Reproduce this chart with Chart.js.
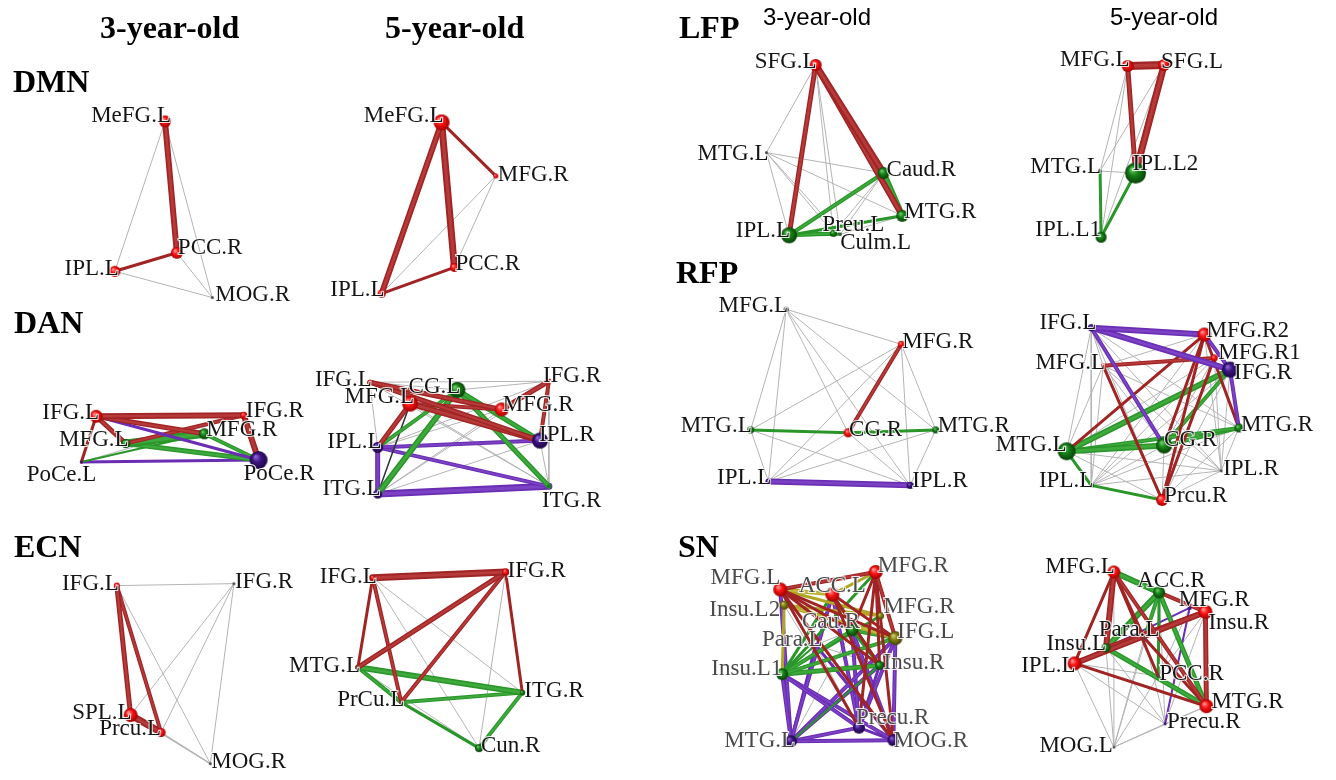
<!DOCTYPE html>
<html>
<head>
<meta charset="utf-8">
<script src="https://cdn.jsdelivr.net/npm/chart.js@4.4.0/dist/chart.umd.min.js"></script>
<style>
  html, body { margin: 0; padding: 0; background: #fff; }
  #wrap { width: 1336px; height: 780px; }
</style>
</head>
<body>
<div id="wrap"><canvas id="myChart" width="1336" height="780"></canvas></div>
<script>
// ---- DMN 3-year-old
const dmn3Names = ["MeFG.L", "PCC.R", "IPL.L", "MOG.R"];
const dmn3X = [157, 169, 106, 205];
const dmn3Y = [114, 249, 268, 295];
const dmn3Module = ["r", "r", "r", "k"];
const dmn3Edges = [[0,1,"r",6],[2,1,"r",3],[0,2,"n",1],[0,3,"n",1],[1,3,"n",1],[2,3,"n",1]];

// ---- DMN 5-year-old
const dmn5Names = ["MeFG.L", "MFG.R", "PCC.R", "IPL.L"];
const dmn5X = [438, 493, 451, 377];
const dmn5Y = [115, 170, 264, 291];
const dmn5Module = ["r", "r", "r", "r"];
const dmn5Edges = [[0,3,"r",6],[0,2,"r",7],[0,1,"r",3],[3,2,"r",3],[3,1,"n",1],[2,1,"n",1]];

// ---- DAN 3-year-old
const dan3Names = ["IFG.L", "IFG.R", "MFG.L", "MFG.R", "PoCe.L", "PoCe.R"];
const dan3X = [87, 237, 117, 197, 72, 252];
const dan3Y = [417, 416, 445, 435, 464, 462];
const dan3Module = ["r", "r", "g", "g", "p", "p"];
const dan3Edges = [[0,1,"r",6],[0,3,"r",5],[0,2,"r",5],[0,4,"r",3],[0,5,"p",3],[1,5,"r",6],[2,1,"r",4],
  [2,3,"g",8],[2,5,"g",5],[3,5,"g",4],[4,3,"g",2],[4,5,"p",3],[4,1,"n",1]];

// ---- DAN 5-year-old
const dan5Names = ["IFG.L", "CG.L", "MFG.L", "MFG.R", "IFG.R", "IPL.L", "IPL.R", "ITG.L", "ITG.R"];
const dan5X = [365, 454, 406, 499, 547, 373, 538, 373, 547];
const dan5Y = [382, 390, 404, 410, 381, 449, 442, 497, 489];
const dan5Module = ["r", "g", "r", "r", "r", "p", "p", "p", "g"];
const dan5Edges = [[0,3,"r",5],[0,6,"r",5],[2,6,"r",6],[2,3,"r",4],[2,5,"r",5],[4,3,"r",5],[4,6,"r",4],
  [1,7,"g",6],[1,5,"g",4],[1,6,"g",5],[1,8,"g",5],[2,7,"k",1.5],
  [5,6,"p",4],[5,8,"p",4],[5,7,"p",5],[7,8,"p",7],
  [0,4,"n",1],[0,1,"n",1],[0,5,"n",1],[1,4,"n",1],[4,8,"n",1],[4,5,"n",1],[5,3,"n",1],[6,7,"n",1],
  [7,3,"n",1],[2,8,"n",1],[0,8,"n",1],[6,8,"n",1],[4,7,"n",1]];

// ---- ECN 3-year-old
const ecn3Names = ["IFG.L", "IFG.R", "SPL.L", "Prcu.L", "MOG.R"];
const ecn3X = [108, 227, 122, 153, 203];
const ecn3Y = [591, 589, 724, 742, 774];
const ecn3Module = ["r", "k", "r", "r", "k"];
const ecn3Edges = [[0,2,"r",5],[0,3,"r",4],[2,3,"r",7],[0,1,"n",1],[0,4,"n",1],[1,2,"n",1],[1,3,"n",1],
  [1,4,"n",1],[3,4,"n",1.5],[2,4,"n",1]];

// ---- ECN 5-year-old
const ecn5Names = ["IFG.L", "IFG.R", "MTG.L", "ITG.R", "PrCu.L", "Cun.R"];
const ecn5X = [368, 503, 353, 520, 397, 476];
const ecn5Y = [583, 577, 675, 701, 711, 758];
const ecn5Module = ["r", "r", "k", "g", "k", "g"];
const ecn5Edges = [[0,1,"r",7],[1,2,"r",5],[1,4,"r",4],[1,3,"r",3],[0,2,"r",3],[0,4,"r",4],
  [2,3,"g",6],[2,4,"g",4],[4,3,"g",4],[4,5,"g",3],[3,5,"g",4],
  [0,3,"n",1],[0,5,"n",1],[1,5,"n",1],[2,5,"n",1]];

// ---- LFP 3-year-old
const lfp3Names = ["SFG.L", "MTG.L", "Caud.R", "MTG.R", "IPL.L", "Preu.L", "Culm.L"];
const lfp3X = [818, 768, 887, 906, 791, 836, 843];
const lfp3Y = [56, 146, 167, 211, 231, 229, 230];
const lfp3Module = ["r", "k", "g", "g", "g", "g", "k"];
const lfp3Edges = [[0,2,"r",7],[0,3,"r",6],[0,4,"r",5],[4,2,"g",4],[2,3,"g",6],[4,3,"g",3],[4,5,"g",4],[4,6,"g",3],
  [0,1,"n",1],[0,5,"n",1],[0,6,"n",1],[1,4,"n",1],[1,2,"n",1],[1,3,"n",1],[1,5,"n",1],[1,6,"n",1],
  [2,5,"n",1],[2,6,"n",1],[3,6,"n",1]];

// ---- LFP 5-year-old
const lfp5Names = ["MFG.L", "SFG.L", "MTG.L", "IPL.L2", "IPL.L1"];
const lfp5X = [1135, 1172, 1107, 1143, 1108];
const lfp5Y = [57, 56, 165, 167, 233];
const lfp5Module = ["r", "r", "k", "g", "g"];
const lfp5Edges = [[0,1,"r",8],[0,3,"r",5],[1,3,"r",7],[2,4,"g",3],[4,3,"g",3],
  [0,2,"n",1],[0,4,"n",1],[1,2,"n",1],[1,4,"n",1],[2,3,"n",1]];

// ---- RFP 3-year-old
const rfp3Names = ["MFG.L", "MFG.R", "MTG.L", "CG.R", "MTG.R", "IPL.L", "IPL.R"];
const rfp3X = [788, 905, 752, 851, 940, 770, 914];
const rfp3Y = [307, 343, 431, 434, 431, 484, 488];
const rfp3Module = ["k", "r", "g", "r", "g", "p", "p"];
const rfp3Edges = [[1,3,"r",4],[2,3,"g",3],[3,4,"g",3],[5,6,"p",6],
  [0,1,"n",1],[0,2,"n",1],[0,3,"n",1],[0,4,"n",1],[0,5,"n",1],[0,6,"n",1],[1,2,"n",1],[1,4,"n",1],
  [1,5,"n",1],[1,6,"n",1],[2,5,"n",1],[2,6,"n",1],[3,5,"n",1],[3,6,"n",1],[4,5,"n",1],[4,6,"n",1]];

// ---- RFP 5-year-old
const rfp5Names = ["IFG.L", "MFG.R2", "MFG.R1", "IFG.R", "MFG.L", "MTG.R", "CG.R", "MTG.L", "IPL.R", "IPL.L", "Prcu.R"];
const rfp5X = [1098, 1213, 1223, 1239, 1110, 1248, 1172, 1073, 1230, 1098, 1170];
const rfp5Y = [326, 333, 357, 369, 365, 429, 447, 453, 473, 488, 503];
const rfp5Module = ["p", "r", "r", "p", "r", "g", "g", "g", "k", "g", "r"];
const rfp5Edges = [[0,1,"p",6],[0,3,"p",6],[0,6,"p",4],[1,3,"p",4],[3,5,"p",4],
  [4,2,"r",4],[4,10,"r",3],[7,1,"r",3],[1,6,"r",3],[1,10,"r",3],[2,10,"r",3],[1,5,"r",3],
  [7,3,"g",6],[7,6,"g",6],[7,5,"g",4],[6,3,"g",4],[6,5,"g",4],[7,9,"g",3],[9,10,"g",3],
  [0,4,"n",1],[0,7,"n",1],[0,9,"n",1],[0,5,"n",1],[0,8,"n",1],[0,10,"n",1],[4,7,"n",1],[4,6,"n",1],
  [4,8,"n",1],[4,5,"n",1],[4,9,"n",1],[1,9,"n",1],[1,8,"n",1],[2,7,"n",1],[2,9,"n",1],[2,8,"n",1],
  [3,9,"n",1],[3,8,"n",1],[3,10,"n",1],[5,9,"n",1],[5,8,"n",1],[5,10,"n",1],[6,9,"n",1],[6,8,"n",1],
  [6,10,"n",1],[7,8,"n",1],[7,10,"n",1],[9,8,"n",1],[8,10,"n",1],[1,4,"n",1],[2,6,"n",1]];

// ---- SN 3-year-old
const sn3Names = ["MFG.L", "ACC.L", "MFG.R", "Insu.L2", "MFG.R", "Cau.R", "IFG.L", "Para.L", "Insu.L1", "Insu.R", "Precu.R", "MTG.L", "MOG.R"];
const sn3X = [782, 835, 879, 786, 884, 855, 899, 818, 784, 883, 862, 793, 897];
const sn3Y = [595, 600, 577, 611, 622, 637, 645, 652, 682, 673, 737, 751, 750];
const sn3Module = ["r", "r", "r", "o", "o", "g", "o", "k", "g", "g", "p", "p", "p"];
const sn3Edges = [[0,2,"r",4],[0,9,"r",3],[0,10,"r",3],[0,12,"r",3],[0,5,"r",3],[1,12,"r",3],[1,6,"r",3],
  [1,9,"r",3],[2,6,"r",4],[2,9,"r",3],[2,10,"r",3],[2,5,"r",3],[2,12,"r",3],[0,6,"r",3],
  [0,1,"o",4],[0,4,"o",3],[3,6,"o",4],[3,4,"o",3],[3,8,"o",3],[1,2,"o",3],
  [8,2,"g",3],[8,6,"g",4],[8,9,"g",5],[8,5,"g",4],[8,4,"g",3],[5,6,"g",4],[5,9,"g",3],[1,9,"g",3],
  [8,7,"g",2],[11,9,"g",2],[1,8,"g",3],
  [11,12,"p",4],[11,10,"p",4],[8,11,"p",4],[8,10,"p",4],[8,12,"p",4],[0,11,"p",4],[6,12,"p",4],
  [6,11,"p",4],[6,10,"p",4],[9,11,"p",4],[9,10,"p",3],[5,10,"p",4],[5,12,"p",4],[1,10,"p",4],
  [1,11,"p",4],[7,11,"p",3],[7,12,"p",3],[10,12,"p",3],
  [7,10,"n",1],[3,11,"n",1],[7,9,"n",1],[5,11,"n",1],[3,10,"n",1],[7,5,"n",1],[1,7,"n",1]];

// ---- SN 5-year-old
const sn5Names = ["MFG.L", "ACC.R", "MFG.R", "Insu.R", "Para.L", "Insu.L", "IPL.L", "PCC.R", "MTG.R", "Precu.R", "MOG.L"];
const sn5X = [1121, 1167, 1198, 1214, 1152, 1113, 1081, 1166, 1215, 1173, 1121];
const sn5Y = [577, 598, 614, 618, 645, 655, 671, 684, 715, 733, 757];
const sn5Module = ["r", "g", "p", "r", "k", "g", "r", "k", "r", "p", "k"];
const sn5Edges = [[0,6,"r",3],[0,5,"r",6],[0,7,"r",3],[0,8,"r",4],[0,4,"r",3],[1,3,"r",4],[3,6,"r",6],
  [3,8,"r",5],[3,5,"r",5],[6,8,"r",3],[4,8,"r",3],
  [0,1,"g",6],[1,5,"g",6],[1,7,"g",3],[1,8,"g",5],[5,8,"g",5],[1,4,"g",4],
  [6,2,"p",2],[2,9,"p",2],
  [10,6,"n",1],[10,5,"n",1],[10,4,"n",1],[10,1,"n",1],[10,7,"n",1],[10,9,"n",1],[10,8,"n",1],[10,0,"n",1],
  [6,9,"n",1],[6,7,"n",1],[3,9,"n",1],[3,7,"n",1],[8,9,"n",1],[5,9,"n",1],[4,9,"n",1],[1,9,"n",1],
  [3,4,"n",1],[2,7,"n",1]];

// ---- styles: node radius and label placement [align, dx, dy]
const dmn3Size = [6, 6, 5.5, 1.5];
const dmn3Lab = [["right",6,1],["left",1,1],["right",4,4],["left",3,3]];
const dmn5Size = [8, 2.5, 4.5, 4];
const dmn5Lab = [["right",2,0],["left",2,5],["left",1,3],["right",3,2]];
const dan3Size = [6.5, 3.5, 4.5, 5.5, 1.5, 9];
const dan3Lab = [["right",3,3],["left",2,2],["right",3,2],["left",2,2],["right",15,19],["left",-15,20]];
const dan5Size = [2, 8, 8, 7, 2, 5.5, 8, 4.5, 2];
const dan5Lab = [["right",2,4],["right",3,3],["right",4,-1],["left",1,2],["left",-6,1],["right",4,1],["left",-1,0],["right",3,1],["left",-7,21]];
const ecn3Size = [3, 1.5, 7, 4.5, 1.5];
const ecn3Lab = [["right",2,4],["left",1,4],["right",1,4],["right",0,2],["left",1,4]];
const ecn5Size = [2.5, 3.5, 1.5, 2.5, 1.5, 4];
const ecn5Lab = [["right",4,5],["left",2,5],["right",2,5],["left",2,4],["right",3,4],["left",2,4]];
const lfp3Size = [6, 1.5, 6, 6, 8, 3.5, 1.5];
const lfp3Lab = [["right",1,3],["right",2,7],["left",3,3],["left",2,2],["right",1,2],["left",-11,-2],["left",0,15]];
const lfp5Size = [6, 6, 1.5, 10.5, 5.5];
const lfp5Lab = [["right",2,0],["left",-3,3],["right",1,2],["left",-3,-3],["right",0,-1]];
const rfp3Size = [2.5, 3.5, 3.5, 4.5, 3.5, 2.5, 3.5];
const rfp3Lab = [["right",2,3],["left",1,4],["right",1,2],["left",1,3],["left",2,2],["right",3,3],["left",2,2]];
const rfp5Size = [3.5, 7, 3.5, 8, 2, 4.5, 8, 9, 1.5, 2.5, 6];
const rfp5Lab = [["right",5,1],["left",2,2],["left",4,1],["left",4,9],["right",2,3],["left",2,3],["left",0,1],["right",0,0],["left",2,4],["right",2,2],["left",2,2]];
const sn3Size = [7, 7, 7, 4.5, 3.5, 6, 7, 1.5, 6, 4.5, 6, 6, 6];
const sn3Lab = [["right",0,-5],["center",0,-2],["left",2,0],["right",-4,11],["left",3,-3],["right",8,-2],["left",2,0],["right",7,1],["right",0,1],["left",4,4],["left",-3,-4],["right",4,6],["left",0,7]];
const sn5Size = [6.5, 6, 2, 7, 1.5, 4.5, 7, 1.5, 7, 1.5, 1.5];
const sn5Lab = [["right",1,1],["left",-22,-5],["left",-11,-2],["left",3,17],["right",15,-2],["right",0,2],["right",1,9],["left",1,4],["left",5,2],["left",2,4],["right",-1,5]];

const colors = {
  r: { edge: "#a02424", shine: "#b63a3a", node: "#ff1414", light: "#ffa0a0", dark: "#a00000" },
  g: { edge: "#2a962a", shine: "#3eaa3e", node: "#178017", light: "#70d070", dark: "#084008" },
  p: { edge: "#6a2db4", shine: "#7b42c4", node: "#3d1480", light: "#8f68d8", dark: "#1c0744" },
  o: { edge: "#b0a726", shine: "#c2ba3c", node: "#858014", light: "#dcd478", dark: "#444008" },
  k: { edge: "#333333", shine: "#444444", node: "#4a4a4a", light: "#aaaaaa", dark: "#1a1a1a" },
  n: { edge: "#b4b4b4" }
};

const panels = [
  { names: dmn3Names, x: dmn3X, y: dmn3Y, mod: dmn3Module, edges: dmn3Edges, size: dmn3Size, lab: dmn3Lab },
  { names: dmn5Names, x: dmn5X, y: dmn5Y, mod: dmn5Module, edges: dmn5Edges, size: dmn5Size, lab: dmn5Lab },
  { names: dan3Names, x: dan3X, y: dan3Y, mod: dan3Module, edges: dan3Edges, size: dan3Size, lab: dan3Lab },
  { names: dan5Names, x: dan5X, y: dan5Y, mod: dan5Module, edges: dan5Edges, size: dan5Size, lab: dan5Lab },
  { names: ecn3Names, x: ecn3X, y: ecn3Y, mod: ecn3Module, edges: ecn3Edges, size: ecn3Size, lab: ecn3Lab },
  { names: ecn5Names, x: ecn5X, y: ecn5Y, mod: ecn5Module, edges: ecn5Edges, size: ecn5Size, lab: ecn5Lab },
  { names: lfp3Names, x: lfp3X, y: lfp3Y, mod: lfp3Module, edges: lfp3Edges, size: lfp3Size, lab: lfp3Lab },
  { names: lfp5Names, x: lfp5X, y: lfp5Y, mod: lfp5Module, edges: lfp5Edges, size: lfp5Size, lab: lfp5Lab },
  { names: rfp3Names, x: rfp3X, y: rfp3Y, mod: rfp3Module, edges: rfp3Edges, size: rfp3Size, lab: rfp3Lab },
  { names: rfp5Names, x: rfp5X, y: rfp5Y, mod: rfp5Module, edges: rfp5Edges, size: rfp5Size, lab: rfp5Lab },
  { names: sn3Names, x: sn3X, y: sn3Y, mod: sn3Module, edges: sn3Edges, size: sn3Size, lab: sn3Lab, grey: true },
  { names: sn5Names, x: sn5X, y: sn5Y, mod: sn5Module, edges: sn5Edges, size: sn5Size, lab: sn5Lab }
];

// little shaded spheres, used as point styles
const sphereCache = {};
function sphere(key, r) {
  const id = key + r;
  if (sphereCache[id]) return sphereCache[id];
  const col = colors[key];
  const s = Math.ceil(r * 2 + 2);
  const cv = document.createElement("canvas");
  cv.width = s;
  cv.height = s;
  const c = cv.getContext("2d");
  const m = s / 2;
  if (r < 2.5) {
    c.fillStyle = col.node;
  } else {
    const g = c.createRadialGradient(m - r * 0.35, m - r * 0.4, r * 0.05, m, m, r);
    g.addColorStop(0, col.light);
    g.addColorStop(0.45, col.node);
    g.addColorStop(1, col.dark);
    c.fillStyle = g;
  }
  c.beginPath();
  c.arc(m, m, r, 0, Math.PI * 2);
  c.fill();
  sphereCache[id] = cv;
  return cv;
}

function edgeSet(p, e, color, width) {
  return {
    data: [{ x: p.x[e[0]], y: p.y[e[0]] }, { x: p.x[e[1]], y: p.y[e[1]] }],
    showLine: true,
    borderColor: color,
    borderWidth: width,
    borderCapStyle: "round",
    pointRadius: 0,
    pointHoverRadius: 0,
    order: e[2] === "n" ? 3 : 2,
  };
}

const datasets = [];
panels.forEach((p) => {
  p.edges.forEach((e) => {
    // soft tube highlight first: lower index is painted on top within the same order
    if (e[2] !== "n" && e[3] >= 4) datasets.push(edgeSet(p, e, colors[e[2]].shine, e[3] * 0.45));
    datasets.push(edgeSet(p, e, colors[e[2]].edge, e[3]));
  });
  datasets.push({
    data: p.x.map((v, i) => ({ x: v, y: p.y[i] })),
    pointStyle: p.mod.map((m, i) => sphere(m, p.size[i])),
    pointRadius: p.size,
    pointBorderWidth: 0,
    order: 1,
  });
});

const titles = [
  ["3-year-old", 100, 38, "bold 32px 'Liberation Serif', serif"],
  ["5-year-old", 385, 38, "bold 32px 'Liberation Serif', serif"],
  ["DMN", 13, 92, "bold 32px 'Liberation Serif', serif"],
  ["DAN", 14, 333, "bold 32px 'Liberation Serif', serif"],
  ["ECN", 14, 557, "bold 32px 'Liberation Serif', serif"],
  ["LFP", 679, 38, "bold 32px 'Liberation Serif', serif"],
  ["RFP", 676, 283, "bold 32px 'Liberation Serif', serif"],
  ["SN", 678, 557, "bold 32px 'Liberation Serif', serif"],
  ["3-year-old", 763, 25, "24px 'Liberation Sans', Arial, sans-serif"],
  ["5-year-old", 1110, 25, "24px 'Liberation Sans', Arial, sans-serif"]
];

const labelPlugin = {
  id: "nodeLabels",
  afterDatasetsDraw(chart) {
    const ctx = chart.ctx;
    const xs = chart.scales.x, ys = chart.scales.y;
    ctx.save();
    ctx.textBaseline = "alphabetic";
    titles.forEach((t) => {
      ctx.font = t[3];
      ctx.textAlign = "left";
      ctx.fillStyle = "#000";
      ctx.fillText(t[0], t[1], t[2]);
    });
    ctx.font = "23px 'Liberation Serif', 'Times New Roman', serif";
    panels.forEach((p) => {
      p.names.forEach((name, i) => {
        const l = p.lab[i];
        const px = xs.getPixelForValue(p.x[i]) + l[1];
        const py = ys.getPixelForValue(p.y[i]) + l[2];
        ctx.textAlign = l[0];
        ctx.lineWidth = 2;
        ctx.strokeStyle = "rgba(255,255,255,0.85)";
        ctx.strokeText(name, px, py);
        ctx.fillStyle = p.grey ? "#4a4a4a" : "#151515";
        ctx.fillText(name, px, py);
      });
    });
    ctx.restore();
  },
};

const myChart = new Chart(document.getElementById("myChart").getContext("2d"), {
  type: "scatter",
  data: { datasets: datasets },
  options: {
    responsive: false,
    animation: false,
    events: [],
    layout: { padding: 0 },
    plugins: { legend: { display: false }, tooltip: { enabled: false } },
    scales: {
      x: { type: "linear", min: 0, max: 1336, display: false },
      y: { type: "linear", min: 0, max: 780, reverse: true, display: false },
    },
  },
  plugins: [labelPlugin],
});
</script>
</body>
</html>
